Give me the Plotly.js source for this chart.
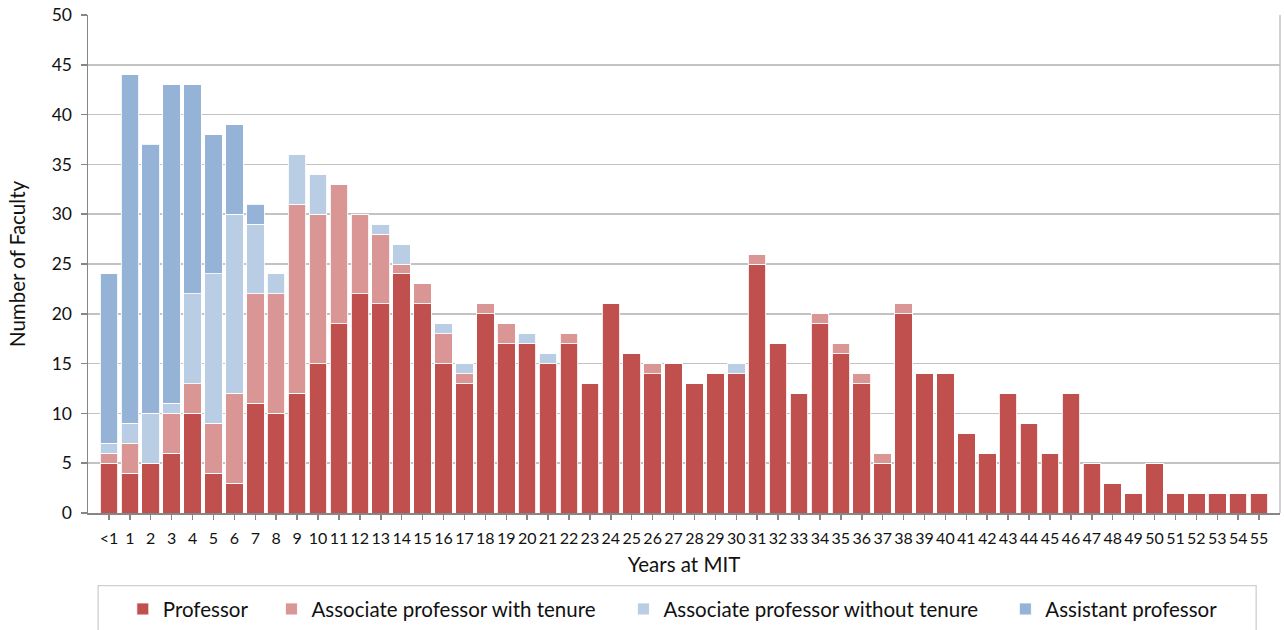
<!DOCTYPE html>
<html>
<head>
<meta charset="utf-8">
<script src="https://cdn.plot.ly/plotly-3.0.1.min.js"></script>
<style>html,body{margin:0;padding:0;background:#fff;}#chart{width:1284px;height:630px;}</style>
</head>
<body>
<div id="chart"></div>
<script>
const categories = ['<1','1','2','3','4','5','6','7','8','9','10','11','12','13','14','15','16','17','18','19','20','21','22','23','24','25','26','27','28','29','30','31','32','33','34','35','36','37','38','39','40','41','42','43','44','45','46','47','48','49','50','51','52','53','54','55'];
const professor = [5,4,5,6,10,4,3,11,10,12,15,19,22,21,24,21,15,13,20,17,17,15,17,13,21,16,14,15,13,14,14,25,17,12,19,16,13,5,20,14,14,8,6,12,9,6,12,5,3,2,5,2,2,2,2,2];
const assocTenure = [1,3,0,4,3,5,9,11,12,19,15,14,8,7,1,2,3,1,1,2,0,0,1,0,0,0,1,0,0,0,0,1,0,0,1,1,1,1,1,0,0,0,0,0,0,0,0,0,0,0,0,0,0,0,0,0];
const assocNoTenure = [1,2,5,1,9,15,18,7,2,5,4,0,0,1,2,0,1,1,0,0,1,1,0,0,0,0,0,0,0,0,1,0,0,0,0,0,0,0,0,0,0,0,0,0,0,0,0,0,0,0,0,0,0,0,0,0];
const assistant = [17,35,27,32,21,14,9,2,0,0,0,0,0,0,0,0,0,0,0,0,0,0,0,0,0,0,0,0,0,0,0,0,0,0,0,0,0,0,0,0,0,0,0,0,0,0,0,0,0,0,0,0,0,0,0,0];
const seriesNames = ['Professor','Associate professor with tenure','Associate professor without tenure','Assistant professor'];

const FONT = 'Lato, "Open Sans", sans-serif';
const colors = ['#C0504D','#D99694','#B9CDE5','#95B3D7'];
const series = [professor, assocTenure, assocNoTenure, assistant];
const legendIds = ['legend','legend2','legend3','legend4'];

const traces = series.map((vals, i) => ({
  type: 'bar',
  name: seriesNames[i],
  x: categories,
  y: vals,
  marker: {color: colors[i], line: {color: 'rgba(255,255,255,0.85)', width: 1}},
  legend: legendIds[i],
  hoverinfo: 'x+y+name'
}));

const legendX = [0.0292, 0.1539, 0.4492, 0.7696];
const legendCommon = {
  orientation: 'h', xanchor: 'left', yanchor: 'middle', y: -0.193,
  bgcolor: 'rgba(0,0,0,0)', borderwidth: 0,
  font: {family: FONT, size: 20.5, color: '#111'}
};

const layout = {
  width: 1284, height: 630,
  margin: {l: 88, r: 4, t: 15, b: 117, pad: 0, autoexpand: false},
  paper_bgcolor: '#fff', plot_bgcolor: '#fff',
  barmode: 'stack', bargap: 0.16,
  font: {family: FONT, color: '#111'},
  xaxis: {
    type: 'category', range: [-1, 56],
    tickmode: 'array', tickvals: categories, ticktext: categories,
    tickangle: 0, tickfont: {family: FONT, size: 16, color: '#111'},
    showline: true, linecolor: '#868686', linewidth: 1.5,
    ticks: 'outside', ticklen: 5, tickcolor: '#868686', tickwidth: 1.5,
    ticklabelstandoff: 5,
    showgrid: false, zeroline: false, automargin: false,
    title: {text: 'Years at MIT', font: {family: FONT, size: 20.5, color: '#111'}, standoff: 12}
  },
  yaxis: {
    range: [0, 50], tickmode: 'linear', tick0: 0, dtick: 5,
    tickfont: {family: FONT, size: 17.5, color: '#111'},
    showline: true, linecolor: '#868686', linewidth: 1.5,
    ticks: 'outside', ticklen: 6, tickcolor: '#868686', tickwidth: 1.5,
    ticklabelstandoff: 5, automargin: false,
    showgrid: true, gridcolor: '#C3C3C3', gridwidth: 1.5, zeroline: false,
    title: {text: 'Number of Faculty', font: {family: FONT, size: 20.5, color: '#111'}, standoff: 20}
  },
  shapes: [
    {type: 'line', xref: 'paper', yref: 'paper', x0: 1, x1: 1, y0: 0, y1: 1, line: {color: '#C3C3C3', width: 1.5}},
    {type: 'rect', xref: 'paper', yref: 'paper', x0: 0.0085, x1: 0.98, y0: -0.146, y1: -0.30, line: {color: '#CFCFCF', width: 1.3}, fillcolor: 'rgba(0,0,0,0)', layer: 'below'}
  ],
  showlegend: true
};
legendIds.forEach((id, i) => {
  layout[id] = Object.assign({}, legendCommon, {x: legendX[i]});
});

Plotly.newPlot('chart', traces, layout, {displayModeBar: false, staticPlot: true});
</script>
</body>
</html>
